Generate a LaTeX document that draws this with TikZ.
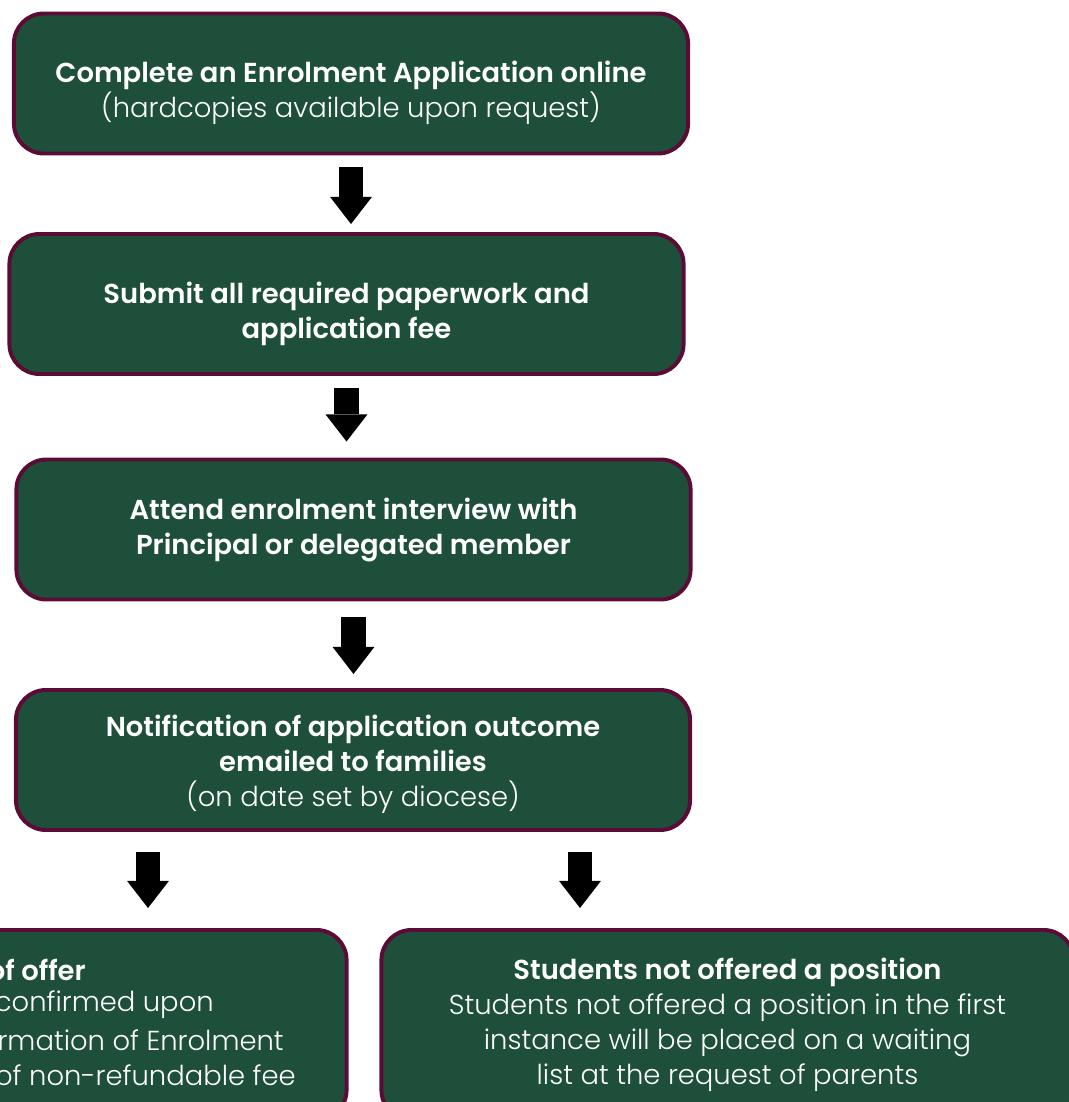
\documentclass[tikz,border=0pt]{standalone}
\usepackage{fontspec}
\setmainfont{Poppins}[UprightFont=* Light, BoldFont=* SemiBold]
\usetikzlibrary{arrows.meta}
\definecolor{boxgreen}{HTML}{1D4F3B}
\definecolor{boxrim}{HTML}{5B0B36}
\newcommand{\stagegap}[1]{\rule{0pt}{#1}}
\tikzset{
  stage/.style={draw=boxrim, line width=2.8pt, fill=boxgreen, rounded corners=0.75cm,
    minimum width=16.85cm, minimum height=3.5cm, text=white, align=center,
    font=\fontsize{19.5}{24.9}\selectfont},
  outcome/.style={stage, minimum width=17.3cm, minimum height=4.75cm},
  linetxt/.style={text=white, anchor=east, inner sep=0pt, font=\fontsize{19.5}{24.9}\selectfont},
  bigarrow/.style={line width=0.62cm, -{Triangle[width=1.05cm,length=0.68cm,line width=0pt]}},
}
\begin{document}
\begin{tikzpicture}[x=0.025cm,y=-0.025cm]
    \useasboundingbox (0,0) rectangle (1069,1102);
    \clip (0,0) rectangle (1069,1102);
    \node[stage] (apply) at (351,83.5) {\stagegap{29pt}\textbf{Complete an Enrolment Application online}\\(hardcopies available upon request)};
    \node[stage] (submit) at (346.5,304) {\stagegap{29pt}\textbf{Submit all required paperwork and}\\\textbf{application fee}};
    \node[stage] (interview) at (353.5,529.5) {\textbf{Attend enrolment interview with}\\\textbf{Principal or delegated member}};
    \node[stage] (notify) at (353,760) {\stagegap{22pt}\textbf{Notification of application outcome}\\\textbf{emailed to families}\\(on date set by diocese)};
    \node[outcome] (accept) at (0.5,1025) {};
    \node[outcome] (waitlist) at (727.5,1025) {\textbf{Students not offered a position}\\Students not offered a position in the first\\instance will be placed on a waiting\\list at the request of parents};
    \node[linetxt] (acc1) at (86,970) {\textbf{of offer}};
    \node[linetxt] (acc2) at (214,1005) {confirmed upon};
    \node[linetxt] (acc3) at (284,1040) {rmation of Enrolment};
    \node[linetxt] (acc4) at (296,1075) {of non-refundable fee};
    \coordinate (toacc) at (148,930);
    \coordinate (towait) at (580,930);
    \path[bigarrow]
    (apply.south)	edge[shorten <=0.3cm,shorten >=0.2cm]	(apply.south |- submit.north)
    (submit.south)	edge[shorten <=0.3cm,shorten >=0.4cm]	(submit.south |- interview.north)
    (interview.south)	edge[shorten <=0.4cm,shorten >=0.35cm]	(interview.south |- notify.north)
    (notify.south -| toacc)	edge[shorten <=0.5cm,shorten >=0.55cm]	(toacc)
    (notify.south -| towait)	edge[shorten <=0.5cm,shorten >=0.55cm]	(towait);
  \end{tikzpicture}
\end{document}
